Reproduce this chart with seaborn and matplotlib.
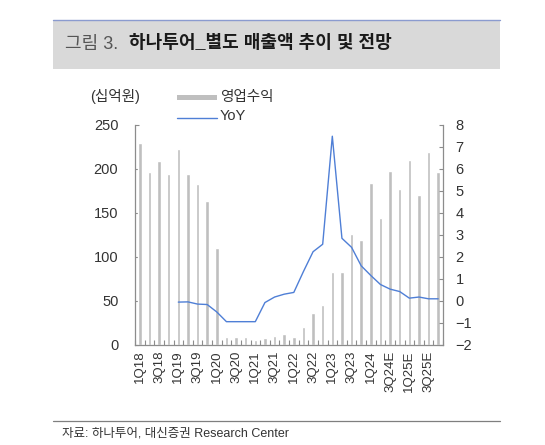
import numpy as np
import pandas as pd
import matplotlib
matplotlib.use('Agg')
import matplotlib.pyplot as plt
import seaborn as sns
from matplotlib.patches import Rectangle
from matplotlib.lines import Line2D

# ─── Data ─────────────────────────────────────────────────────────────────────
quarters = ['1Q18', '2Q18', '3Q18', '4Q18', '1Q19', '2Q19', '3Q19', '4Q19',
            '1Q20', '2Q20', '3Q20', '4Q20', '1Q21', '2Q21', '3Q21', '4Q21',
            '1Q22', '2Q22', '3Q22', '4Q22', '1Q23', '2Q23', '3Q23', '4Q23',
            '1Q24', '2Q24', '3Q24E', '4Q24E', '1Q25E', '2Q25E', '3Q25E', '4Q25E']
revenue = [229.5, 196.6, 208.7, 193.9, 222.7, 193.9, 183.3, 163.6,
           110.5, 8.7, 8.7, 8.7, 5.7, 7.5, 10.2, 12.1,
           8.7, 20.8, 36.6, 45.3, 82.8, 82.5, 126.2, 119.4,
           183.6, 144.7, 197.5, 176.8, 210.0, 171.0, 219.0, 196.4]
yoy_quarters = quarters[4:]
yoy = [-0.05, -0.04, -0.14, -0.16, -0.50, -0.94, -0.94, -0.94,
       -0.94, -0.07, 0.18, 0.31, 0.39, 1.34, 2.24, 2.58,
       7.49, 2.85, 2.44, 1.60, 1.16, 0.75, 0.54, 0.43,
       0.13, 0.18, 0.10, 0.10]
left_ticks = [0, 50, 100, 150, 200, 250]
right_ticks = list(range(-2, 9))

title_num = '그림 3.'
title_txt = '하나투어_별도 매출액 추이 및 전망'
unit_txt = '(십억원)'
bar_label = '영업수익'
line_label = 'YoY'
source_txt = '자료: 하나투어, 대신증권 Research Center'

# ─── Style ────────────────────────────────────────────────────────────────────
sns.set_style('white')
plt.rcParams['font.family'] = ['Liberation Sans', 'Noto Sans CJK KR', 'DejaVu Sans']

BAR = '#bfbfbf'
LINE = '#4f7fd6'
AXC = '#8c8c8c'
TXT = '#333333'

W, H = 545, 445
fig = plt.figure(figsize=(W / 100, H / 100), dpi=100)


def fx(x):
    return x / W


def fy(y):
    return 1 - y / H


# axes box in pixels: left 135, right 443, top 125, bottom 345
ax = fig.add_axes([fx(135), fy(345), fx(443) - fx(135), fy(125) - fy(345)])

df = pd.DataFrame({'quarter': quarters, 'revenue': revenue})
sns.barplot(data=df, x='quarter', y='revenue', order=quarters, color=BAR,
            saturation=1, width=0.36, ax=ax)
ax.set_xlim(-0.5, len(quarters) - 0.5)
ax.set_ylim(0, 250)
ax.set_yticks(left_ticks)
ax.set_xlabel('')
ax.set_ylabel('')

ax2 = ax.twinx()
yoy_x = [quarters.index(q) for q in yoy_quarters]
sns.lineplot(x=yoy_x, y=yoy, ax=ax2, color=LINE, linewidth=1.0)
ax2.set_ylim(-2, 8)
ax2.set_yticks(right_ticks)
ax2.set_xlim(-0.5, len(quarters) - 0.5)
ax2.set_ylabel('')

# x ticks: labels on every other quarter, small marks on category boundaries
ax.set_xticks(range(0, len(quarters), 2))
ax.set_xticklabels(quarters[::2], rotation=90, fontsize=9.5, color=TXT)
ax.set_xticks(np.arange(-0.5, len(quarters), 1), minor=True)
ax.tick_params(axis='x', which='major', length=0, pad=4)
ax.tick_params(axis='x', which='minor', direction='in', length=3.5,
               width=0.8, color=AXC, bottom=True)
ax.tick_params(axis='y', direction='in', length=3, width=0.8, color=AXC,
               labelsize=10.5, labelcolor=TXT, pad=12)
ax2.tick_params(axis='y', direction='in', length=3, width=0.8, color=AXC,
                labelsize=10.5, labelcolor=TXT, pad=9)

for a in (ax, ax2):
    for side in ('left', 'right', 'bottom'):
        a.spines[side].set_color(AXC)
        a.spines[side].set_linewidth(0.9)
    a.spines['top'].set_visible(False)
ax.spines['right'].set_visible(False)
ax2.spines['left'].set_visible(False)
ax2.spines['bottom'].set_visible(False)

# ─── Title bar ────────────────────────────────────────────────────────────────
fig.add_artist(Rectangle((fx(53), fy(69)), fx(500) - fx(53), fy(20) - fy(69),
                         transform=fig.transFigure, facecolor='#d9d9d9',
                         edgecolor='none', zorder=0))
fig.add_artist(Line2D([fx(53), fx(500)], [fy(20), fy(20)],
                      transform=fig.transFigure, color='#8b9bcf', linewidth=1))
fig.text(fx(65), fy(44), title_num, fontsize=13, color='#555555',
         va='center', ha='left')
fig.text(fx(129), fy(44), title_txt, fontsize=13, color='#1a1a1a',
         va='center', ha='left', fontweight='bold')

# ─── Legend / unit ────────────────────────────────────────────────────────────
fig.text(fx(90), fy(97), unit_txt, fontsize=10.5, color=TXT, va='center')
fig.add_artist(Rectangle((fx(177), fy(99.5)), fx(217) - fx(177), fy(95) - fy(99.5),
                         transform=fig.transFigure, facecolor=BAR,
                         edgecolor='none'))
fig.text(fx(220), fy(97), bar_label, fontsize=10.5, color=TXT, va='center')
fig.add_artist(Line2D([fx(177), fx(217)], [fy(118), fy(118)],
                      transform=fig.transFigure, color=LINE, linewidth=1))
fig.text(fx(220), fy(116), line_label, fontsize=10.5, color=TXT, va='center')

# ─── Source line ──────────────────────────────────────────────────────────────
fig.add_artist(Line2D([fx(53), fx(500)], [fy(421), fy(421)],
                      transform=fig.transFigure, color='#7f7f7f', linewidth=0.9))
fig.text(fx(62), fy(433), source_txt, fontsize=9, color=TXT, va='center')

fig.savefig('out.png', dpi=100)
